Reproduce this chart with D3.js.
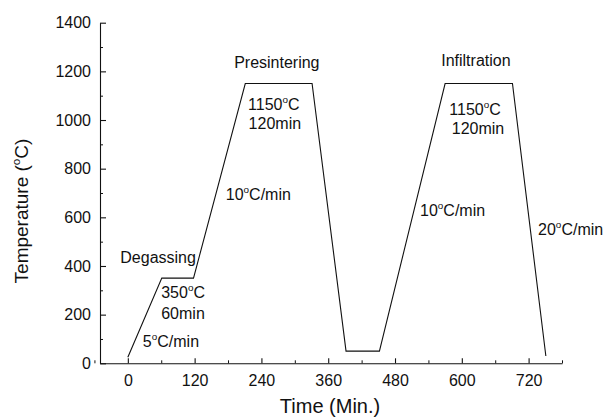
<!DOCTYPE html>
<html>
<head>
<meta charset="utf-8">
<script src="https://cdn.jsdelivr.net/npm/d3@7"></script>
<style>
  body { margin: 0; background: #fff; }
  svg { display: block; font-family: "Liberation Sans", Arial, sans-serif; }
</style>
</head>
<body>
<div id="chart"></div>
<script>
// firing schedule
const timeMin = [0, 61, 118, 211, 331, 392, 452, 570, 691, 751];
const tempC = [25, 350, 350, 1150, 1150, 50, 50, 1150, 1150, 30];

const xMajorTicks = [0, 120, 240, 360, 480, 600, 720];
const xMinorTicks = [-60, 60, 180, 300, 420, 540, 660, 780];
const yMajorTicks = [0, 200, 400, 600, 800, 1000, 1200, 1400];
const yMinorTicks = [100, 300, 500, 700, 900, 1100, 1300];

// annotation text, "°" is drawn as a raised small "o"
const noteText = ["Degassing", "350°C", "60min", "5°C/min",
  "Presintering", "1150°C", "120min", "10°C/min",
  "Infiltration", "1150°C", "120min", "10°C/min", "20°C/min"];
const noteTime = [-13.5, 60, 60, 27, 191, 216, 217, 176, 563, 577.5, 582, 525, 737];
const noteTemp = [414, 268, 182, 67, 1212, 1041, 962, 671, 1222, 1020, 942, 605, 527];

const width = 609, height = 419;

const svg = d3.select("#chart")
  .append("svg")
  .attr("width", width)
  .attr("height", height);

const x = d3.scaleLinear().domain([-50, 780]).range([100, 562]);
const y = d3.scaleLinear().domain([0, 1400]).range([363.3, 22.7]);

// minor ticks first, no labels
svg.append("g")
  .attr("transform", "translate(0," + y(0) + ")")
  .call(d3.axisBottom(x).tickValues(xMinorTicks).tickSize(-3).tickFormat(""))
  .call(g => g.select(".domain").remove());
svg.append("g")
  .attr("transform", "translate(" + x(-50) + ",0)")
  .call(d3.axisLeft(y).tickValues(yMinorTicks).tickSize(-3).tickFormat(""))
  .call(g => g.select(".domain").remove());

const xAxis = svg.append("g")
  .attr("transform", "translate(0," + y(0) + ")")
  .call(d3.axisBottom(x).tickValues(xMajorTicks).tickFormat(d3.format("d"))
    .tickSizeInner(-5).tickSizeOuter(0).tickPadding(11));
const yAxis = svg.append("g")
  .attr("transform", "translate(" + x(-50) + ",0)")
  .call(d3.axisLeft(y).tickValues(yMajorTicks).tickFormat(d3.format("d"))
    .tickSizeInner(-6).tickSizeOuter(0).tickPadding(9));

[xAxis, yAxis].forEach(a => {
  a.selectAll("text")
    .style("font-size", "16px")
    .style("font-family", "'Liberation Sans', Arial, sans-serif")
    .attr("fill", "#111");
  a.selectAll("line, path").attr("stroke", "#111").attr("stroke-width", 1.1);
});
svg.selectAll(".tick line").attr("stroke", "#111");

// the profile
const line = d3.line()
  .x((d, i) => x(timeMin[i]))
  .y((d, i) => y(tempC[i]));

svg.append("path")
  .datum(timeMin)
  .attr("fill", "none")
  .attr("stroke", "#111")
  .attr("stroke-width", 1.1)
  .attr("d", line);

// write a label, turning "°" into a superscript o
function degreeText(sel, str, size) {
  const parts = str.split("°");
  parts.forEach((p, i) => {
    if (i > 0) {
      sel.append("tspan").attr("dy", -size * 0.42).style("font-size", (size * 0.62) + "px").text("o");
      sel.append("tspan").attr("dy", size * 0.42).text(p);
    } else {
      sel.append("tspan").text(p);
    }
  });
}

noteText.forEach((t, i) => {
  const txt = svg.append("text")
    .attr("x", x(noteTime[i]))
    .attr("y", y(noteTemp[i]))
    .attr("fill", "#111")
    .style("font-size", "16px");
  degreeText(txt, t, 16);
});

// axis titles
svg.append("text")
  .attr("x", 330)
  .attr("y", 413)
  .attr("text-anchor", "middle")
  .attr("fill", "#111")
  .style("font-size", "20px")
  .text("Time (Min.)");

const yTitle = svg.append("text")
  .attr("transform", "translate(28,211) rotate(-90)")
  .attr("text-anchor", "middle")
  .attr("fill", "#111")
  .style("font-size", "19px");
degreeText(yTitle, "Temperature (°C)", 19);
</script>
</body>
</html>
